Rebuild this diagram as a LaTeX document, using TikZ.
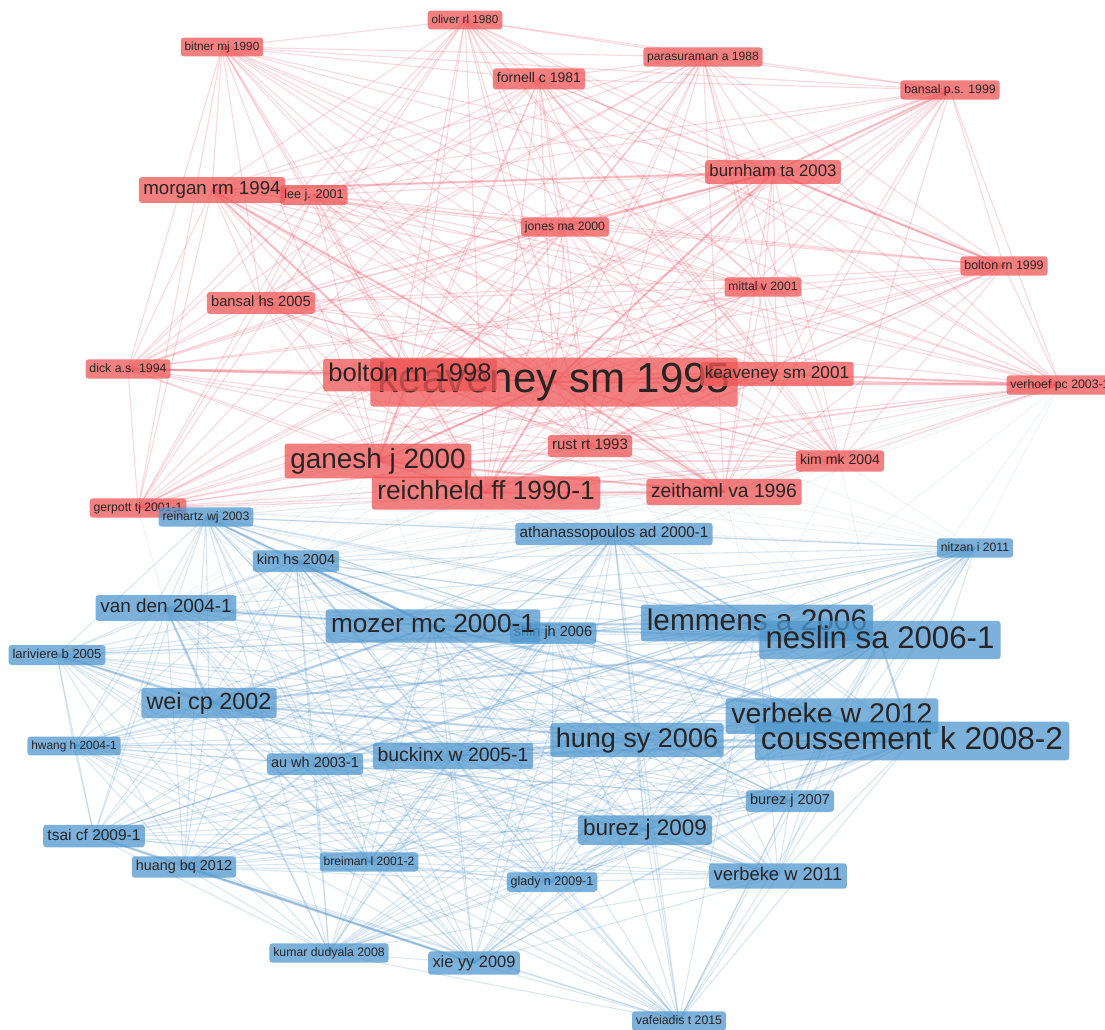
\documentclass[tikz,border=0pt]{standalone}
\usepackage{fontspec}
\setmainfont{Liberation Sans}
\pgfdeclarelayer{bgzero}
\pgfdeclarelayer{background}
\pgfsetlayers{bgzero,background,main}
\definecolor{rbox}{RGB}{240,86,86}
\definecolor{bbox}{RGB}{80,152,206}
\definecolor{redgec}{RGB}{236,80,100}
\definecolor{bedgec}{RGB}{95,155,205}
\definecolor{xedgec}{RGB}{150,172,195}
\definecolor{lbl}{RGB}{40,36,36}
\tikzset{
  fs/.code={%
    \pgfmathsetmacro\fsz{#1*0.75}%
    \pgfmathsetmacro\fht{(#1+7)*0.75}%
    \pgfmathsetmacro\fth{#1*0.75*0.73}%
    \pgfmathsetmacro\ftd{#1*0.75*0.21}%
    \edef\fstmp{\noexpand\tikzset{font=\noexpand\fontsize{\fsz pt}{\fsz pt}\noexpand\selectfont,
      minimum height=\fht pt,text height=\fth pt,text depth=\ftd pt,inner xsep=\fsz pt*0.12+1.8pt}}%
    \fstmp},
  pub/.style={rectangle,rounded corners=2.2pt,inner ysep=0pt,text=lbl,fill opacity=0.75,text opacity=1},
  rpub/.style={pub,fill=rbox},
  bpub/.style={pub,fill=bbox},
  redge/.style={draw=redgec,line width=0.8pt,opacity=0.22},
  bedge/.style={draw=bedgec,line width=0.8pt,opacity=0.24},
  xedge/.style={draw=xedgec,line width=0.7pt,opacity=0.14},
  rstrong/.style={draw=redgec,line width=1.8pt,opacity=0.25},
  bstrong/.style={draw=bedgec,line width=1.8pt,opacity=0.28}
}
\begin{document}
\begin{tikzpicture}[x=0.75pt,y=-0.75pt]
\useasboundingbox (0,0) rectangle (1105,1030);
\begin{pgfonlayer}{bgzero}
\fill[white] (0,0) rectangle (1105,1030);
\end{pgfonlayer}
% ---------- red cluster ----------
\node[rpub,fs=11.7] (ol)  at (465,20)  {oliver rl 1980};
\node[rpub,fs=11.8] (bi)  at (222,47)  {bitner mj 1990};
\node[rpub,fs=14]   (fo)  at (539,79)  {fornell c 1981};
\node[rpub,fs=12.1] (pa)  at (703,57)  {parasuraman a 1988};
\node[rpub,fs=12.3] (bps) at (950,90)  {bansal p.s. 1999};
\node[rpub,fs=18.7] (mo)  at (212,190) {morgan rm 1994};
\node[rpub,fs=12.6] (lee) at (314,195) {lee j. 2001};
\node[rpub,fs=16.8] (bu)  at (773,172) {burnham ta 2003};
\node[rpub,fs=12.2] (jo)  at (565,227) {jones ma 2000};
\node[rpub,fs=12.4] (b99) at (1004,266) {bolton rn 1999};
\node[rpub,fs=12.2] (mi)  at (763,287) {mittal v 2001};
\node[rpub,fs=14.7] (bhs) at (261,303) {bansal hs 2005};
\node[rpub,fs=12.3] (di)  at (128,369) {dick a.s. 1994};
\node[rpub,fs=42]   (k95) at (554,382) {keaveney sm 1995};
\node[rpub,fs=25.5] (b98) at (410,375) {bolton rn 1998};
\node[rpub,fs=17.2] (k01) at (777,374) {keaveney sm 2001};
\node[rpub,fs=12.3] (ve)  at (1060,385) {verhoef pc 2003-1};
\node[rpub,fs=15]   (ru)  at (590,446) {rust rt 1993};
\node[rpub,fs=14.1] (kmk) at (840,461) {kim mk 2004};
\node[rpub,fs=19.3] (ze)  at (724,492) {zeithaml va 1996};
\node[rpub,fs=27.9] (ga)  at (378,461) {ganesh j 2000};
\node[rpub,fs=26.3] (re)  at (486,493) {reichheld ff 1990-1};
\node[rpub,fs=12.2] (ge)  at (138,508) {gerpott tj 2001-1};
% ---------- blue cluster ----------
\node[bpub,fs=12.3] (rw)  at (206,517) {reinartz wj 2003};
\node[bpub,fs=14.5] (khs) at (296,561) {kim hs 2004};
\node[bpub,fs=15.3] (at)  at (614,534) {athanassopoulos ad 2000-1};
\node[bpub,fs=12.2] (ni)  at (975,548) {nitzan i 2011};
\node[bpub,fs=18.9] (vd)  at (166,608) {van den 2004-1};
\node[bpub,fs=14.5] (sh)  at (553,633) {shin jh 2006};
\node[bpub,fs=26.2] (mz)  at (433,626) {mozer mc 2000-1};
\node[bpub,fs=29.8] (le)  at (757,623) {lemmens a 2006};
\node[bpub,fs=31.2] (ne)  at (880,640) {neslin sa 2006-1};
\node[bpub,fs=13]   (la)  at (57,655)  {lariviere b 2005};
\node[bpub,fs=23.4] (wei) at (209,703) {wei cp 2002};
\node[bpub,fs=28.5] (v12) at (832,716) {verbeke w 2012};
\node[bpub,fs=11.9] (hw)  at (74,746)  {hwang h 2004-1};
\node[bpub,fs=14.5] (au)  at (315,764) {au wh 2003-1};
\node[bpub,fs=19.4] (bk)  at (453,756) {buckinx w 2005-1};
\node[bpub,fs=27]   (hu)  at (637,740) {hung sy 2006};
\node[bpub,fs=31.6] (co)  at (912,741) {coussement k 2008-2};
\node[bpub,fs=14.5] (b07) at (790,801) {burez j 2007};
\node[bpub,fs=15.5] (ts)  at (94,836)  {tsai cf 2009-1};
\node[bpub,fs=22.5] (b09) at (645,830) {burez j 2009};
\node[bpub,fs=14.4] (hq)  at (184,867) {huang bq 2012};
\node[bpub,fs=12.1] (br)  at (369,862) {breiman l 2001-2};
\node[bpub,fs=12.5] (gl)  at (552,882) {glady n 2009-1};
\node[bpub,fs=18.4] (v11) at (778,876) {verbeke w 2011};
\node[bpub,fs=12.3] (ku)  at (329,953) {kumar dudyala 2008};
\node[bpub,fs=16.4] (xie) at (474,963) {xie yy 2009};
\node[bpub,fs=12.3] (va)  at (679,1021) {vafeiadis t 2015};
% ---------- connectors ----------
\def\redlist{ol,bi,fo,pa,bps,mo,lee,bu,jo,b99,mi,bhs,di,b98,k95,k01,ve,ru,kmk,ze,re,ga,ge}
\def\bluelist{rw,khs,at,ni,vd,mz,sh,le,ne,la,wei,v12,hw,au,bk,hu,co,b07,ts,b09,hq,br,gl,v11,ku,xie,va}
\begin{pgfonlayer}{background}
\foreach \a [count=\i] in \redlist {
  \foreach \b [count=\j] in \redlist {
    \ifnum\j>\i \draw[redge] (\a.center) -- (\b.center);\fi
  }
}
\foreach \a [count=\i] in \bluelist {
  \foreach \b [count=\j] in \bluelist {
    \ifnum\j>\i \draw[bedge] (\a.center) -- (\b.center);\fi
  }
}
\foreach \a in {re,ga,ze,k95,kmk,ge,ve,ru} {
  \foreach \b in {at,khs,rw,ni,mz,le,ne,vd} {
    \draw[xedge] (\a.center) -- (\b.center);
  }
}
\foreach \a/\b in {k95/b98,k95/ga,k95/re,k95/k01,k95/mo,k95/bu,b98/ga,re/ga,re/ze,mo/b98,bu/jo,di/b98,k95/ve,k01/ve,b99/bu,bps/bu,k95/ze,ga/ze,mo/bu}
  \draw[rstrong] (\a.center) -- (\b.center);
\foreach \a/\b in {hq/xie,ts/xie,mz/ne,mz/le,le/ne,co/ne,co/v12,hu/co,wei/mz,vd/mz,vd/wei,la/wei,bk/hu,b09/co,v11/b09,wei/hu,khs/mz,rw/mz,at/le,mz/co,wei/ne,bk/co,hu/ne}
  \draw[bstrong] (\a.center) -- (\b.center);
\end{pgfonlayer}
\end{tikzpicture}
\end{document}
